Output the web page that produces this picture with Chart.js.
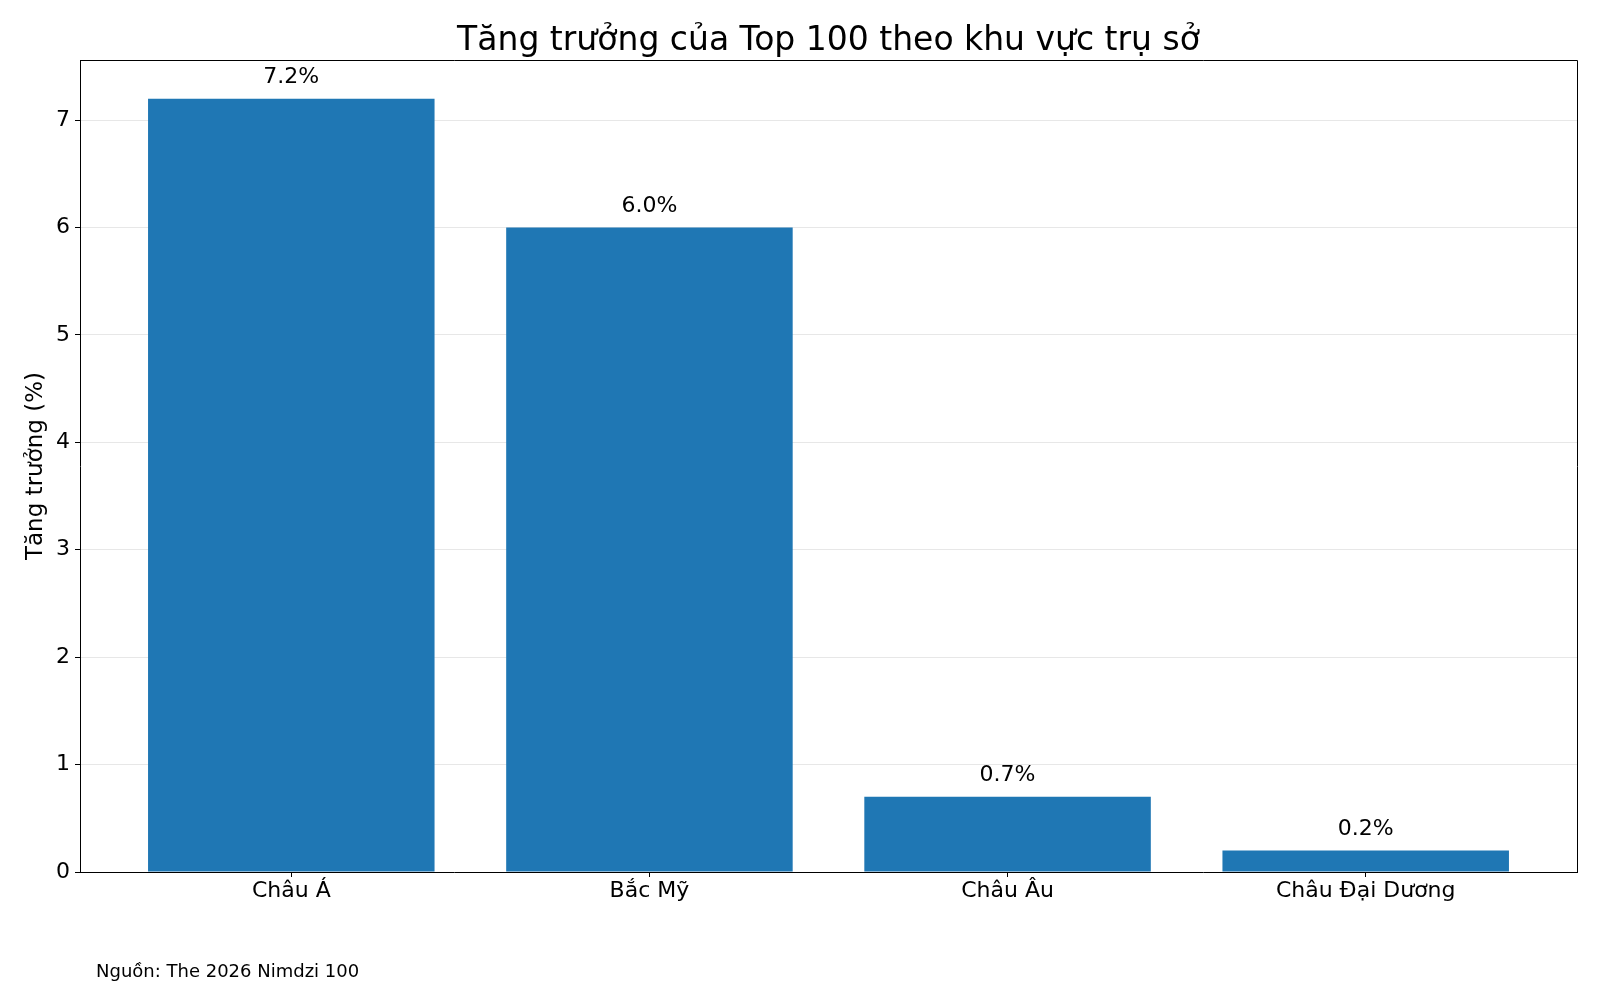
<!DOCTYPE html>
<html>
<head>
<meta charset="utf-8">
<script src="https://cdn.jsdelivr.net/npm/chart.js@4"></script>
<style>
  body { margin: 0; background: #fff; }
</style>
</head>
<body>
<canvas id="growth-chart" width="1600" height="1000"></canvas>
<script>
// data
const regions = ["Châu Á", "Bắc Mỹ", "Châu Âu", "Châu Đại Dương"];
const growth_values = [7.2, 6.0, 0.7, 0.2];
const y_ticks = [0, 1, 2, 3, 4, 5, 6, 7];
const x_ticks = [0, 1, 2, 3];

const chart_title = "Tăng trưởng của Top 100 theo khu vực trụ sở";
const y_title = "Tăng trưởng (%)";
const source_text = "Nguồn: The 2026 Nimdzi 100";

const bar_color = "#1f77b4";
const font_family = "DejaVu Sans";

Chart.defaults.color = "#000";
Chart.defaults.font.family = font_family;

// percentage labels above each bar
const valueLabels = {
  id: "valueLabels",
  afterDatasetsDraw (chart) {
    const ctx = chart.ctx;
    const meta = chart.getDatasetMeta(0);
    ctx.save();
    ctx.font = "22px '" + font_family + "'";
    ctx.fillStyle = "#000";
    ctx.textAlign = "center";
    ctx.textBaseline = "alphabetic";
    meta.data.forEach(function (bar, i) {
      ctx.fillText(growth_values[i].toFixed(1) + "%", bar.x, bar.y - 16);
    });
    ctx.restore();
  }
};

// top and right spines plus the source note
const frameAndSource = {
  id: "frameAndSource",
  afterDraw (chart) {
    const ctx = chart.ctx;
    const area = chart.chartArea;
    ctx.save();
    ctx.strokeStyle = "#000";
    ctx.lineWidth = 1;
    ctx.beginPath();
    ctx.moveTo(Math.round(area.left) + 0.5, Math.round(area.top) + 0.5);
    ctx.lineTo(Math.round(area.right) + 0.5, Math.round(area.top) + 0.5);
    ctx.lineTo(Math.round(area.right) + 0.5, Math.round(area.bottom) + 0.5);
    ctx.stroke();

    ctx.font = "18px '" + font_family + "'";
    ctx.fillStyle = "#000";
    ctx.textAlign = "left";
    ctx.textBaseline = "alphabetic";
    ctx.fillText(source_text, 96, 977);
    ctx.restore();
  }
};

new Chart(document.getElementById("growth-chart"), {
  type: "bar",
  data: {
    datasets: [{
      data: growth_values.map(function (v, i) { return { x: i, y: v }; }),
      backgroundColor: bar_color,
      borderWidth: 0,
      categoryPercentage: 1.0,
      barPercentage: 0.8
    }]
  },
  plugins: [valueLabels, frameAndSource],
  options: {
    responsive: false,
    animation: false,
    devicePixelRatio: 1,
    layout: {
      padding: { left: 0, right: 23, top: 0, bottom: 0 }
    },
    plugins: {
      legend: { display: false },
      tooltip: { enabled: false },
      title: {
        display: true,
        text: chart_title,
        fullSize: false,
        color: "#000",
        font: { size: 33, weight: "normal", lineHeight: 1 },
        padding: { top: 25, bottom: 2 }
      }
    },
    scales: {
      x: {
        type: "linear",
        min: -0.59,
        max: 3.59,
        offset: false,
        afterBuildTicks (scale) {
          scale.ticks = x_ticks.map(function (v) { return { value: v }; });
        },
        afterFit (scale) {
          scale.height = 128;
        },
        grid: {
          offset: false,
          drawOnChartArea: false,
          drawTicks: true,
          tickLength: 5,
          tickColor: "#000"
        },
        border: { color: "#000", width: 1 },
        ticks: {
          padding: 1,
          maxRotation: 0,
          autoSkip: false,
          font: { size: 22 },
          callback: function (value) { return regions[value]; }
        }
      },
      y: {
        min: 0,
        max: 7.56,
        z: 1,
        afterBuildTicks (scale) {
          scale.ticks = y_ticks.map(function (v) { return { value: v }; });
        },
        afterFit (scale) {
          scale.width = 80;
        },
        grid: {
          color: "rgba(176,176,176,0.3)",
          lineWidth: 1,
          tickLength: 5,
          tickColor: "#000"
        },
        border: { color: "#000", width: 1 },
        ticks: {
          padding: 5,
          font: { size: 22 }
        },
        title: {
          display: true,
          text: y_title,
          font: { size: 23 },
          padding: { top: 22, bottom: 0 }
        }
      }
    }
  }
});
</script>
</body>
</html>
